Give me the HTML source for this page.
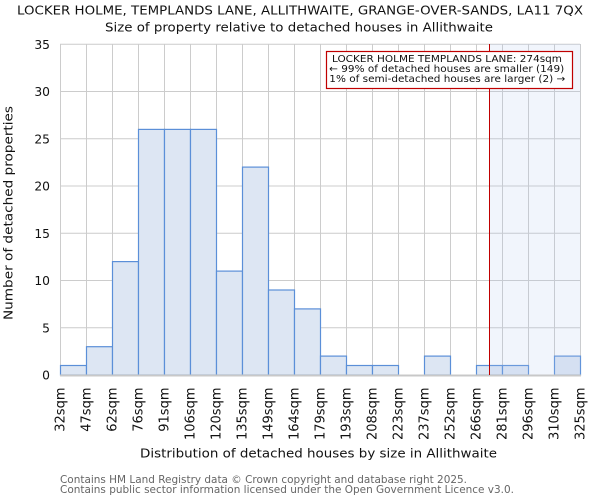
<!DOCTYPE html>
<html><head><meta charset="utf-8"><style>
html,body{margin:0;padding:0;background:#fff;}
svg{display:block;font-family:"DejaVu Sans","Liberation Sans",sans-serif;}
</style></head><body>
<svg width="600" height="500" viewBox="0 0 600 500" xmlns="http://www.w3.org/2000/svg">
<rect width="600" height="500" fill="#fff"/>
<text x="300" y="14.5" font-size="12" text-anchor="middle" fill="#111" textLength="566" lengthAdjust="spacingAndGlyphs">LOCKER HOLME, TEMPLANDS LANE, ALLITHWAITE, GRANGE-OVER-SANDS, LA11 7QX</text>
<text x="299" y="31.5" font-size="12" text-anchor="middle" fill="#111" textLength="388" lengthAdjust="spacingAndGlyphs">Size of property relative to detached houses in Allithwaite</text>
<g stroke="#cccccc" stroke-width="1">
<line x1="60" y1="44.3" x2="580" y2="44.3"/>
<line x1="60" y1="91.5" x2="580" y2="91.5"/>
<line x1="60" y1="138.8" x2="580" y2="138.8"/>
<line x1="60" y1="186" x2="580" y2="186"/>
<line x1="60" y1="233.3" x2="580" y2="233.3"/>
<line x1="60" y1="280.5" x2="580" y2="280.5"/>
<line x1="60" y1="327.8" x2="580" y2="327.8"/>
<line x1="60.5" y1="44" x2="60.5" y2="375"/>
<line x1="86.5" y1="44" x2="86.5" y2="375"/>
<line x1="112.5" y1="44" x2="112.5" y2="375"/>
<line x1="138.5" y1="44" x2="138.5" y2="375"/>
<line x1="164.5" y1="44" x2="164.5" y2="375"/>
<line x1="190.5" y1="44" x2="190.5" y2="375"/>
<line x1="216.5" y1="44" x2="216.5" y2="375"/>
<line x1="242.5" y1="44" x2="242.5" y2="375"/>
<line x1="268.5" y1="44" x2="268.5" y2="375"/>
<line x1="294.5" y1="44" x2="294.5" y2="375"/>
<line x1="320.5" y1="44" x2="320.5" y2="375"/>
<line x1="346.5" y1="44" x2="346.5" y2="375"/>
<line x1="372.5" y1="44" x2="372.5" y2="375"/>
<line x1="398.5" y1="44" x2="398.5" y2="375"/>
<line x1="424.5" y1="44" x2="424.5" y2="375"/>
<line x1="450.5" y1="44" x2="450.5" y2="375"/>
<line x1="476.5" y1="44" x2="476.5" y2="375"/>
<line x1="502.5" y1="44" x2="502.5" y2="375"/>
<line x1="528.5" y1="44" x2="528.5" y2="375"/>
<line x1="554.5" y1="44" x2="554.5" y2="375"/>
<line x1="580.5" y1="44" x2="580.5" y2="375"/>
</g>
<g fill="#dde6f3" stroke="#5b8fd8" stroke-width="1.2">
<rect x="60.5" y="365.5" width="26" height="9.5"/>
<rect x="86.5" y="346.7" width="26" height="28.3"/>
<rect x="112.5" y="261.6" width="26" height="113.4"/>
<rect x="138.5" y="129.4" width="26" height="245.6"/>
<rect x="164.5" y="129.4" width="26" height="245.6"/>
<rect x="190.5" y="129.4" width="26" height="245.6"/>
<rect x="216.5" y="271.1" width="26" height="103.9"/>
<rect x="242.5" y="167.1" width="26" height="207.9"/>
<rect x="268.5" y="290" width="26" height="85"/>
<rect x="294.5" y="308.9" width="26" height="66.1"/>
<rect x="320.5" y="356.1" width="26" height="18.9"/>
<rect x="346.5" y="365.5" width="26" height="9.5"/>
<rect x="372.5" y="365.5" width="26" height="9.5"/>
<rect x="424.5" y="356.1" width="26" height="18.9"/>
<rect x="476.5" y="365.5" width="26" height="9.5"/>
<rect x="502.5" y="365.5" width="26" height="9.5"/>
<rect x="554.5" y="356.1" width="26" height="18.9"/>
</g>
<rect x="489.5" y="44" width="91" height="331" fill="rgb(180,200,240)" fill-opacity="0.18"/>
<line x1="60" y1="375.5" x2="581" y2="375.5" stroke="#c8c8c8" stroke-width="2"/>
<line x1="489.5" y1="44" x2="489.5" y2="375" stroke="#c00000" stroke-width="1"/>
<rect x="326.5" y="51.5" width="246" height="37" fill="#fff" stroke="#c00000" stroke-width="1.2"/>
<g font-size="10" fill="#111">
<text x="447" y="61.8" text-anchor="middle" textLength="230" lengthAdjust="spacingAndGlyphs">LOCKER HOLME TEMPLANDS LANE: 274sqm</text>
<text x="446.7" y="71.8" text-anchor="middle" textLength="235" lengthAdjust="spacingAndGlyphs">← 99% of detached houses are smaller (149)</text>
<text x="447.3" y="82" text-anchor="middle" textLength="236" lengthAdjust="spacingAndGlyphs">1% of semi-detached houses are larger (2) →</text>
</g>
<g font-size="12.3" fill="#111" text-anchor="end">
<text x="50" y="49">35</text>
<text x="50" y="96">30</text>
<text x="50" y="143.3">25</text>
<text x="50" y="190.5">20</text>
<text x="50" y="237.8">15</text>
<text x="50" y="285">10</text>
<text x="50" y="332.3">5</text>
<text x="50" y="379.5">0</text>
</g>
<text transform="translate(12.5,213) rotate(-90)" font-size="12" text-anchor="middle" fill="#111" textLength="214" lengthAdjust="spacingAndGlyphs">Number of detached properties</text>
<g font-size="13" fill="#111" text-anchor="end">
<text transform="translate(64.7,387.5) rotate(-90)">32sqm</text>
<text transform="translate(90.7,387.5) rotate(-90)">47sqm</text>
<text transform="translate(116.7,387.5) rotate(-90)">62sqm</text>
<text transform="translate(142.7,387.5) rotate(-90)">76sqm</text>
<text transform="translate(168.7,387.5) rotate(-90)">91sqm</text>
<text transform="translate(194.7,387.5) rotate(-90)">106sqm</text>
<text transform="translate(220.7,387.5) rotate(-90)">120sqm</text>
<text transform="translate(246.7,387.5) rotate(-90)">135sqm</text>
<text transform="translate(272.7,387.5) rotate(-90)">149sqm</text>
<text transform="translate(298.7,387.5) rotate(-90)">164sqm</text>
<text transform="translate(324.7,387.5) rotate(-90)">179sqm</text>
<text transform="translate(350.7,387.5) rotate(-90)">193sqm</text>
<text transform="translate(376.7,387.5) rotate(-90)">208sqm</text>
<text transform="translate(402.7,387.5) rotate(-90)">223sqm</text>
<text transform="translate(428.7,387.5) rotate(-90)">237sqm</text>
<text transform="translate(454.7,387.5) rotate(-90)">252sqm</text>
<text transform="translate(480.7,387.5) rotate(-90)">266sqm</text>
<text transform="translate(506.7,387.5) rotate(-90)">281sqm</text>
<text transform="translate(532.7,387.5) rotate(-90)">296sqm</text>
<text transform="translate(558.7,387.5) rotate(-90)">310sqm</text>
<text transform="translate(584.7,387.5) rotate(-90)">325sqm</text>
</g>
<text x="318.5" y="457.5" font-size="12.5" text-anchor="middle" fill="#111" textLength="357" lengthAdjust="spacingAndGlyphs">Distribution of detached houses by size in Allithwaite</text>
<g font-size="10.5" fill="#666">
<text x="60" y="483" textLength="407" lengthAdjust="spacingAndGlyphs">Contains HM Land Registry data © Crown copyright and database right 2025.</text>
<text x="60" y="493" textLength="454" lengthAdjust="spacingAndGlyphs">Contains public sector information licensed under the Open Government Licence v3.0.</text>
</g>
</svg>
</body></html>
